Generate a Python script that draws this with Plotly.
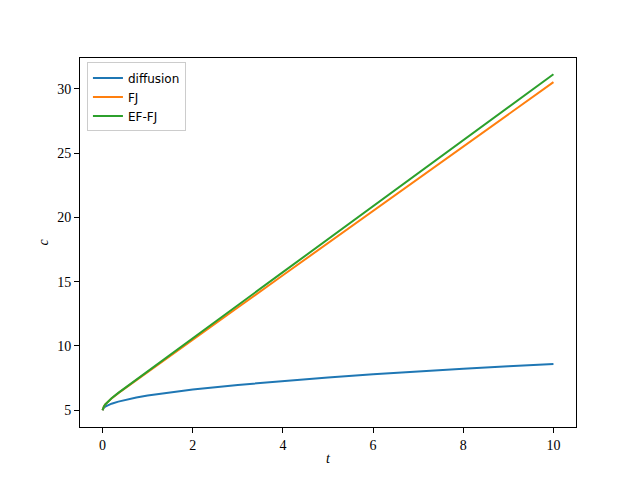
import plotly.graph_objects as go

# Values
t = [0, 0.01, 0.03, 0.06, 0.1, 0.2, 0.35, 0.5, 0.75, 1, 1.5, 2, 3, 4, 5, 6, 7, 8, 9, 10]
diffusion = [5.0, 5.11, 5.2, 5.28, 5.36, 5.51, 5.67, 5.81, 5.99, 6.14, 6.40, 6.61,
             6.97, 7.28, 7.55, 7.79, 8.02, 8.22, 8.42, 8.60]
fj = [5.0, 5.17, 5.3, 5.45, 5.6, 5.92, 6.33, 6.71, 7.35, 7.97, 9.23, 10.49,
      12.99, 15.5, 18.0, 20.5, 23.01, 25.51, 28.02, 30.52]
ef_fj = [5.0, 5.17, 5.3, 5.45, 5.6, 5.93, 6.35, 6.74, 7.38, 8.02, 9.3, 10.6,
         13.17, 15.74, 18.3, 20.87, 23.44, 26.0, 28.57, 31.14]

series = [("diffusion", diffusion, "#1f77b4"),
          ("FJ", fj, "#ff7f0e"),
          ("EF-FJ", ef_fj, "#2ca02c")]

fig = go.Figure()
for name, vals, col in series:
    fig.add_trace(go.Scatter(x=t, y=vals, mode="lines", name=name,
                             line=dict(color=col, width=2)))

serif = "Liberation Serif"
axis_common = dict(
    showgrid=False, zeroline=False, showline=True, linecolor="black",
    linewidth=1, mirror=True, ticks="outside", ticklen=5, tickcolor="black",
    tickfont=dict(family=serif, size=14, color="black"),
)

# page body adds an 8px offset, so margins are trimmed to compensate
fig.update_layout(
    width=640, height=480,
    margin=dict(l=72, r=72, t=50, b=61),
    plot_bgcolor="white", paper_bgcolor="white",
    showlegend=True,
    legend=dict(x=0.014, y=0.988, xanchor="left", yanchor="top",
                bgcolor="rgba(255,255,255,0.8)", bordercolor="#cccccc",
                borderwidth=1, font=dict(family="DejaVu Sans", size=12,
                                         color="black"),
                tracegroupgap=0, itemwidth=30),
    xaxis=dict(range=[-0.5, 10.5], tickvals=[0, 2, 4, 6, 8, 10],
               title=dict(text="<i>t</i>",
                          font=dict(family=serif, size=14, color="black"),
                          standoff=1), **axis_common),
    yaxis=dict(range=[3.695, 32.4], tickvals=[5, 10, 15, 20, 25, 30],
               title=dict(text="<i>c</i>",
                          font=dict(family=serif, size=14, color="black"),
                          standoff=5), **axis_common),
)

fig.write_html("out.html")
